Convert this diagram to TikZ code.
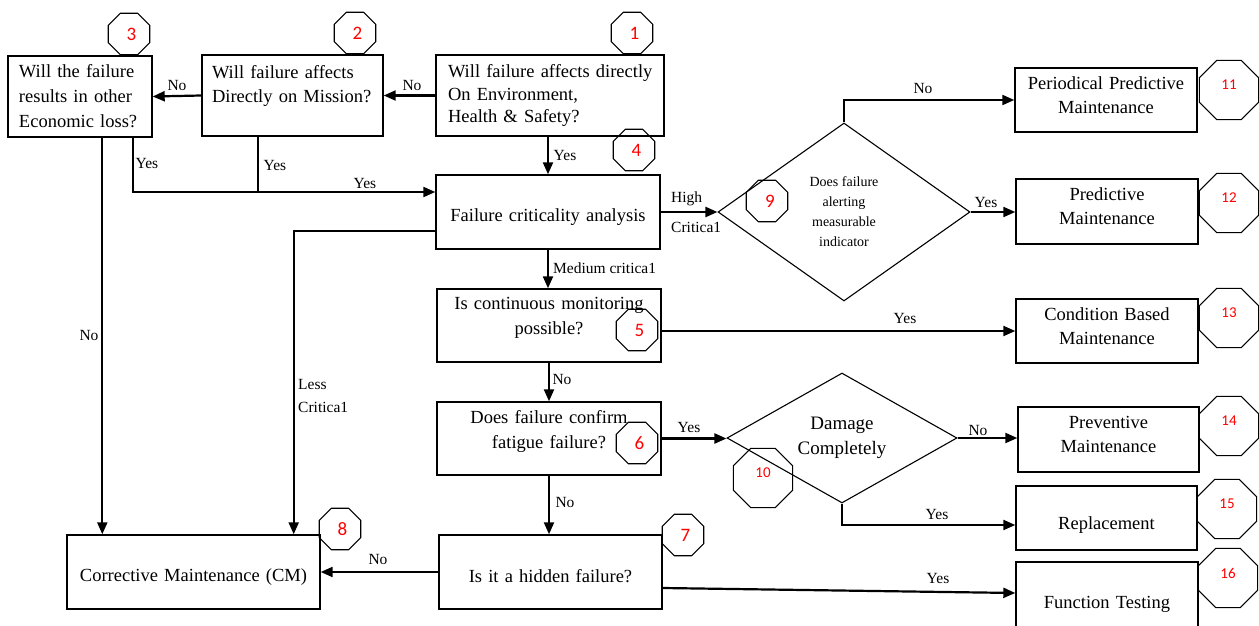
\documentclass[tikz,border=0pt]{standalone}
\usepackage{fontspec}
\setmainfont{Liberation Serif}
\newfontfamily\numfont{Carlito}
\usetikzlibrary{arrows.meta,shapes.geometric}
\begin{document}
\begin{tikzpicture}[x=1pt,y=-1pt,
  bx/.style={draw, line width=1.4pt, inner sep=0pt, font=\fontsize{18.5}{24}\selectfont},
  arr/.style={line width=2.2pt, -{Triangle[length=12pt,width=10pt]}},
  ln/.style={line width=2.2pt},
  lbl/.style={font=\fontsize{15.5}{19}\selectfont, inner sep=0pt, text height=10.5pt, text depth=0pt},
  dia/.style={draw, diamond, line width=1.1pt, inner sep=0pt},
  oct/.style={draw, regular polygon, regular polygon sides=8, line width=1.1pt, inner sep=0pt,
    minimum size=45pt, text=red, font=\numfont\fontsize{19}{19}\selectfont},
  octb/.style={oct, minimum size=64pt, font=\numfont\fontsize{15}{15}\selectfont},
]
\useasboundingbox (0,0) rectangle (1259,626);

% left / top boxes
\node[bx, minimum width=144pt, minimum height=81pt, text width=122pt, align=left,
  font=\fontsize{18.5}{25}\selectfont] (b3) at (80,96.5) {\mbox{Will the failure}\\\mbox{results in other}\\\mbox{Economic loss?}};
\node[bx, minimum width=181pt, minimum height=81pt, text width=161pt, align=left] (b2) at (292.5,95.5)
  {\mbox{Will failure affects}\\\mbox{Directly on Mission?}\\\mbox{}};
\node[bx, minimum width=228pt, minimum height=81pt, text width=204pt, align=left,
  font=\fontsize{18.5}{22.5}\selectfont] (b1) at (550,95.5) {\mbox{Will failure affects directly}\\\mbox{On Environment,}\\\mbox{Health \& Safety?}};

% central column
\node[bx, minimum width=224pt, minimum height=74pt, text width=214pt, align=center] (b4) at (548,212)
  {\mbox{}\\[-2pt]Failure criticality analysis};
\node[bx, minimum width=224pt, minimum height=73pt, text width=214pt, align=center,
  font=\fontsize{18.5}{25}\selectfont] (b5) at (549,325.5) {Is continuous monitoring\\possible?\\[-5pt]\mbox{}};
\node[bx, minimum width=224pt, minimum height=73pt, text width=214pt, align=center,
  font=\fontsize{18.5}{25}\selectfont] (b6) at (549,438.5) {Does failure confirm\\fatigue failure?\\[-6pt]\mbox{}};
\node[bx, minimum width=223pt, minimum height=74pt, text width=213pt, align=center] (b7) at (550.5,572)
  {\mbox{}\\[-2pt]Is it a hidden failure?};
\node[bx, minimum width=253pt, minimum height=74pt, text width=243pt, align=center] (cm) at (193.5,572)
  {\mbox{}\\[-2pt]Corrective Maintenance (CM)};

% right boxes
\node[bx, minimum width=182pt, minimum height=64pt, text width=172pt, align=center] (ppm) at (1106,100)
  {Periodical Predictive\\Maintenance\\[-14pt]\mbox{}};
\node[bx, minimum width=182pt, minimum height=65pt, text width=172pt, align=center] (pm) at (1107,211.5)
  {Predictive\\Maintenance\\[-14pt]\mbox{}};
\node[bx, minimum width=182pt, minimum height=64pt, text width=172pt, align=center] (cbm) at (1107,331)
  {Condition Based\\Maintenance\\[-14pt]\mbox{}};
\node[bx, minimum width=181pt, minimum height=65pt, text width=171pt, align=center] (prev) at (1108.5,439.5)
  {Preventive\\Maintenance\\[-14pt]\mbox{}};
\node[bx, minimum width=181pt, minimum height=64pt, text width=171pt, align=center] (repl) at (1106.5,518)
  {\mbox{}\\[2pt]Replacement};
\node[bx, minimum width=182pt, minimum height=74pt, text width=172pt, align=center] (ft) at (1107,599)
  {\mbox{}\\[-2pt]Function Testing};

% diamonds
\node[dia, minimum width=252pt, minimum height=178pt, align=center,
  font=\fontsize{14}{20}\selectfont] (d9) at (844,212) {Does failure\\alerting\\measurable\\indicator};
\node[dia, minimum width=230pt, minimum height=130pt, aspect=2, align=center,
  font=\fontsize{19}{25}\selectfont] (d10) at (842,438) {Damage\\Completely};

% octagons
\node[oct] (o1) at (632,33) {\hspace*{5pt}1};
\node[oct] (o2) at (355,33) {\hspace*{5pt}2};
\node[oct] (o3) at (129,34) {\hspace*{5pt}3};
\node[oct] (o4) at (634,150) {\hspace*{5pt}4};
\node[oct] (o5) at (637,330) {\hspace*{5pt}5};
\node[oct] (o6) at (637,443) {\hspace*{5pt}6};
\node[oct] (o7) at (683,535) {\hspace*{5pt}7};
\node[oct] (o8) at (340,529) {\hspace*{5pt}8};
\node[oct] (o9) at (767,201) {\hspace*{6pt}9};
\node[octb] (o10) at (763,478) {\raisebox{10pt}{10}};
\node[octb] (o11) at (1229,90) {\raisebox{10pt}{11}};
\node[octb] (o12) at (1229,203) {\raisebox{10pt}{12}};
\node[octb] (o13) at (1229,318) {\raisebox{10pt}{13}};
\node[octb] (o14) at (1229,426) {\raisebox{10pt}{14}};
\node[octb] (o15) at (1227,509) {\raisebox{10pt}{15}};
\node[octb] (o16) at (1228,578) {\raisebox{10pt}{16}};

% connectors
\draw[arr] (b1.west) -- (b2.east);
\draw[arr] (b2.west) -- (b3.east);
\draw[arr] (b1.south -| b4.north) -- (b4.north);
\coordinate (b3y) at ([xshift=-20pt]b3.south east);
\coordinate (b2y) at ([xshift=57pt]b2.south west);
\coordinate (b4in) at ([yshift=20pt]b4.west);
\coordinate (b3n) at ([xshift=95pt]b3.south west);
\draw[arr] (b3y) |- (b4in);
\draw[ln] (b2y) -- (b2y |- b4in);
\draw[arr] (b3n) -- (b3n |- cm.north);
\draw[arr] ([yshift=-19pt]b4.west) -| ([xshift=-27pt]cm.north east);
\draw[arr] (b4.south) -- (b4.south |- b5.north);
\draw[arr] (b4.east) -- (d9.west);
\draw[arr] (d9.north) |- (ppm.west);
\draw[arr] (d9.east) -- (d9.east -| pm.west);
\draw[arr] (b5.east |- cbm.west) -- (cbm.west);
\draw[arr] (b5.south) -- (b5.south |- b6.north);
\draw[arr] (b6.east) -- (b6.east -| d10.west);
\draw[arr] (d10.east) -- (d10.east -| prev.west);
\draw[arr] (d10.south) |- ([yshift=-7pt]repl.west);
\draw[arr] (b6.south) -- (b6.south |- b7.north);
\draw[arr] (b7.west) -- (cm.east);
\draw[arr] ([yshift=-16pt]b7.east) -- ([yshift=6pt]ft.west);

% labels
\node[lbl] (l1) at (412,85) {No};
\node[lbl] (l2) at (177,85) {No};
\node[lbl] (l3) at (565,155) {Yes};
\node[lbl] (l4) at (147,163) {Yes};
\node[lbl] (l5) at (275,165) {Yes};
\node[lbl] (l6) at (365,183) {Yes};
\node[lbl] (l7) at (89,335) {No};
\node[font=\fontsize{15.5}{23}\selectfont, inner sep=0pt, align=left, anchor=west] (l8) at (298,395.5) {Less\\Critica1};
\node[lbl] (l9) at (378,559) {No};
\node[lbl, anchor=west] (l10) at (553,268) {Medium critica1};
\node[lbl] (l11) at (562,379) {No};
\node[lbl] (l12) at (565,502) {No};
\node[lbl] (l13) at (689,427) {Yes};
\node[lbl, anchor=west] (l14) at (671,197) {High};
\node[lbl, anchor=west] (l15) at (671,227) {Critica1};
\node[lbl] (l16) at (923,88) {No};
\node[lbl] (l17) at (986,202) {Yes};
\node[lbl] (l18) at (905,318) {Yes};
\node[lbl] (l19) at (978,430) {No};
\node[lbl] (l20) at (937,514) {Yes};
\node[lbl] (l21) at (938,578) {Yes};
\end{tikzpicture}
\end{document}
